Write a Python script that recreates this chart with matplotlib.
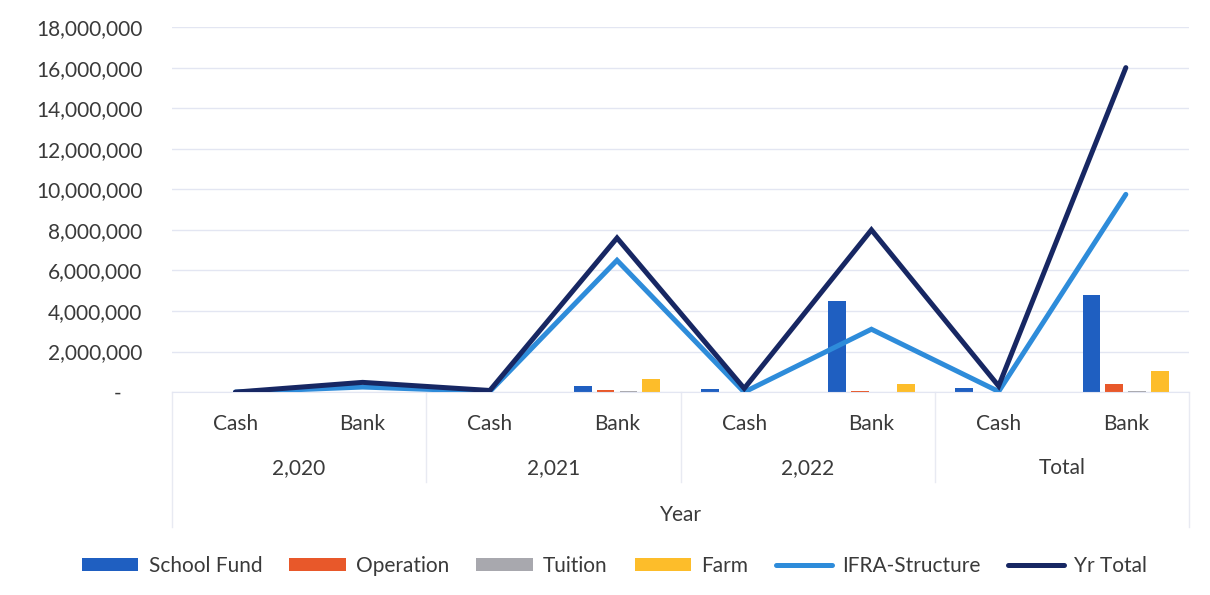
import numpy as np
import matplotlib.pyplot as plt
from matplotlib.ticker import FuncFormatter, MultipleLocator

# categories (Cash/Bank within each year)
years = ['2,020', '2,021', '2,022', 'Total']
kinds = ['Cash', 'Bank'] * 4

# bar series
school_fund = [0, 0, 0, 300000, 150000, 4500000, 180000, 4800000]
operation = [0, 0, 0, 100000, 0, 50000, 0, 380000]
tuition = [0, 0, 0, 30000, 0, 0, 0, 40000]
farm = [0, 0, 0, 650000, 0, 400000, 0, 1050000]

# line series
ifra = [0, 250000, 30000, 6500000, 0, 3100000, 30000, 9750000]
yr_total = [0, 480000, 80000, 7600000, 180000, 8000000, 300000, 16000000]

bar_series = [('School Fund', school_fund, '#1F5FC1'),
              ('Operation', operation, '#E8582A'),
              ('Tuition', tuition, '#A8A8AE'),
              ('Farm', farm, '#FDBD2A')]
line_series = [('IFRA-Structure', ifra, '#2E8CDA'),
               ('Yr Total', yr_total, '#172763')]

plt.rcParams['font.family'] = ['Lato', 'DejaVu Sans']
txt = '#3A3A3A'
fs = 15

fig = plt.figure(figsize=(12.1, 5.95), dpi=100)
ax = fig.add_axes([0.142, 0.341, 0.841, 0.6135])

x = np.arange(len(kinds))
bw = 0.14
step = 0.18
for i, (name, vals, col) in enumerate(bar_series):
    ax.bar(x + (i - 1.5) * step, vals, width=bw, color=col, label=name, zorder=2)

for name, vals, col in line_series:
    ax.plot(x, vals, color=col, linewidth=3.6, label=name, zorder=3,
            solid_joinstyle='miter', solid_capstyle='round')

ax.set_xlim(-0.5, 7.5)
ax.set_ylim(0, 18000000)
ax.yaxis.set_major_locator(MultipleLocator(2000000))
ax.yaxis.set_major_formatter(FuncFormatter(
    lambda v, p: '-    ' if v == 0 else '{:,.0f}'.format(v)))
ax.grid(axis='y', color='#E3E6F2', linewidth=1, zorder=0)
for s in ['top', 'right', 'left']:
    ax.spines[s].set_visible(False)
ax.spines['bottom'].set_color('#E3E6F2')
ax.tick_params(axis='y', length=0, pad=21, labelsize=fs, labelcolor=txt)
ax.set_xticks(x)
ax.set_xticklabels(kinds)
ax.tick_params(axis='x', length=0, pad=16, labelsize=fs, labelcolor=txt)

# year group labels and separators
tr = ax.get_xaxis_transform()
for i, yl in enumerate(years):
    ax.text(2 * i + 0.5, -0.208, yl, transform=tr, ha='center', va='center',
            fontsize=fs, color=txt)
for b in [-0.5, 1.5, 3.5, 5.5, 7.5]:
    bottom = -0.37 if b in (-0.5, 7.5) else -0.247
    ax.plot([b, b], [0, bottom], transform=tr, color='#E8EAF2',
            linewidth=1, clip_on=False)
ax.text(3.5, -0.337, 'Year', transform=tr, ha='center', va='center',
        fontsize=fs, color=txt)

handles, labels = ax.get_legend_handles_labels()
order = [2, 3, 4, 5, 0, 1]
fig.legend([handles[i] for i in order], [labels[i] for i in order],
           loc='center', bbox_to_anchor=(0.508, 0.049), ncol=6, frameon=False,
           fontsize=fs, handlelength=2.7, handleheight=0.55, columnspacing=1.3,
           handletextpad=0.5, labelcolor=txt)

fig.savefig('out.png', dpi=100, facecolor='white')
